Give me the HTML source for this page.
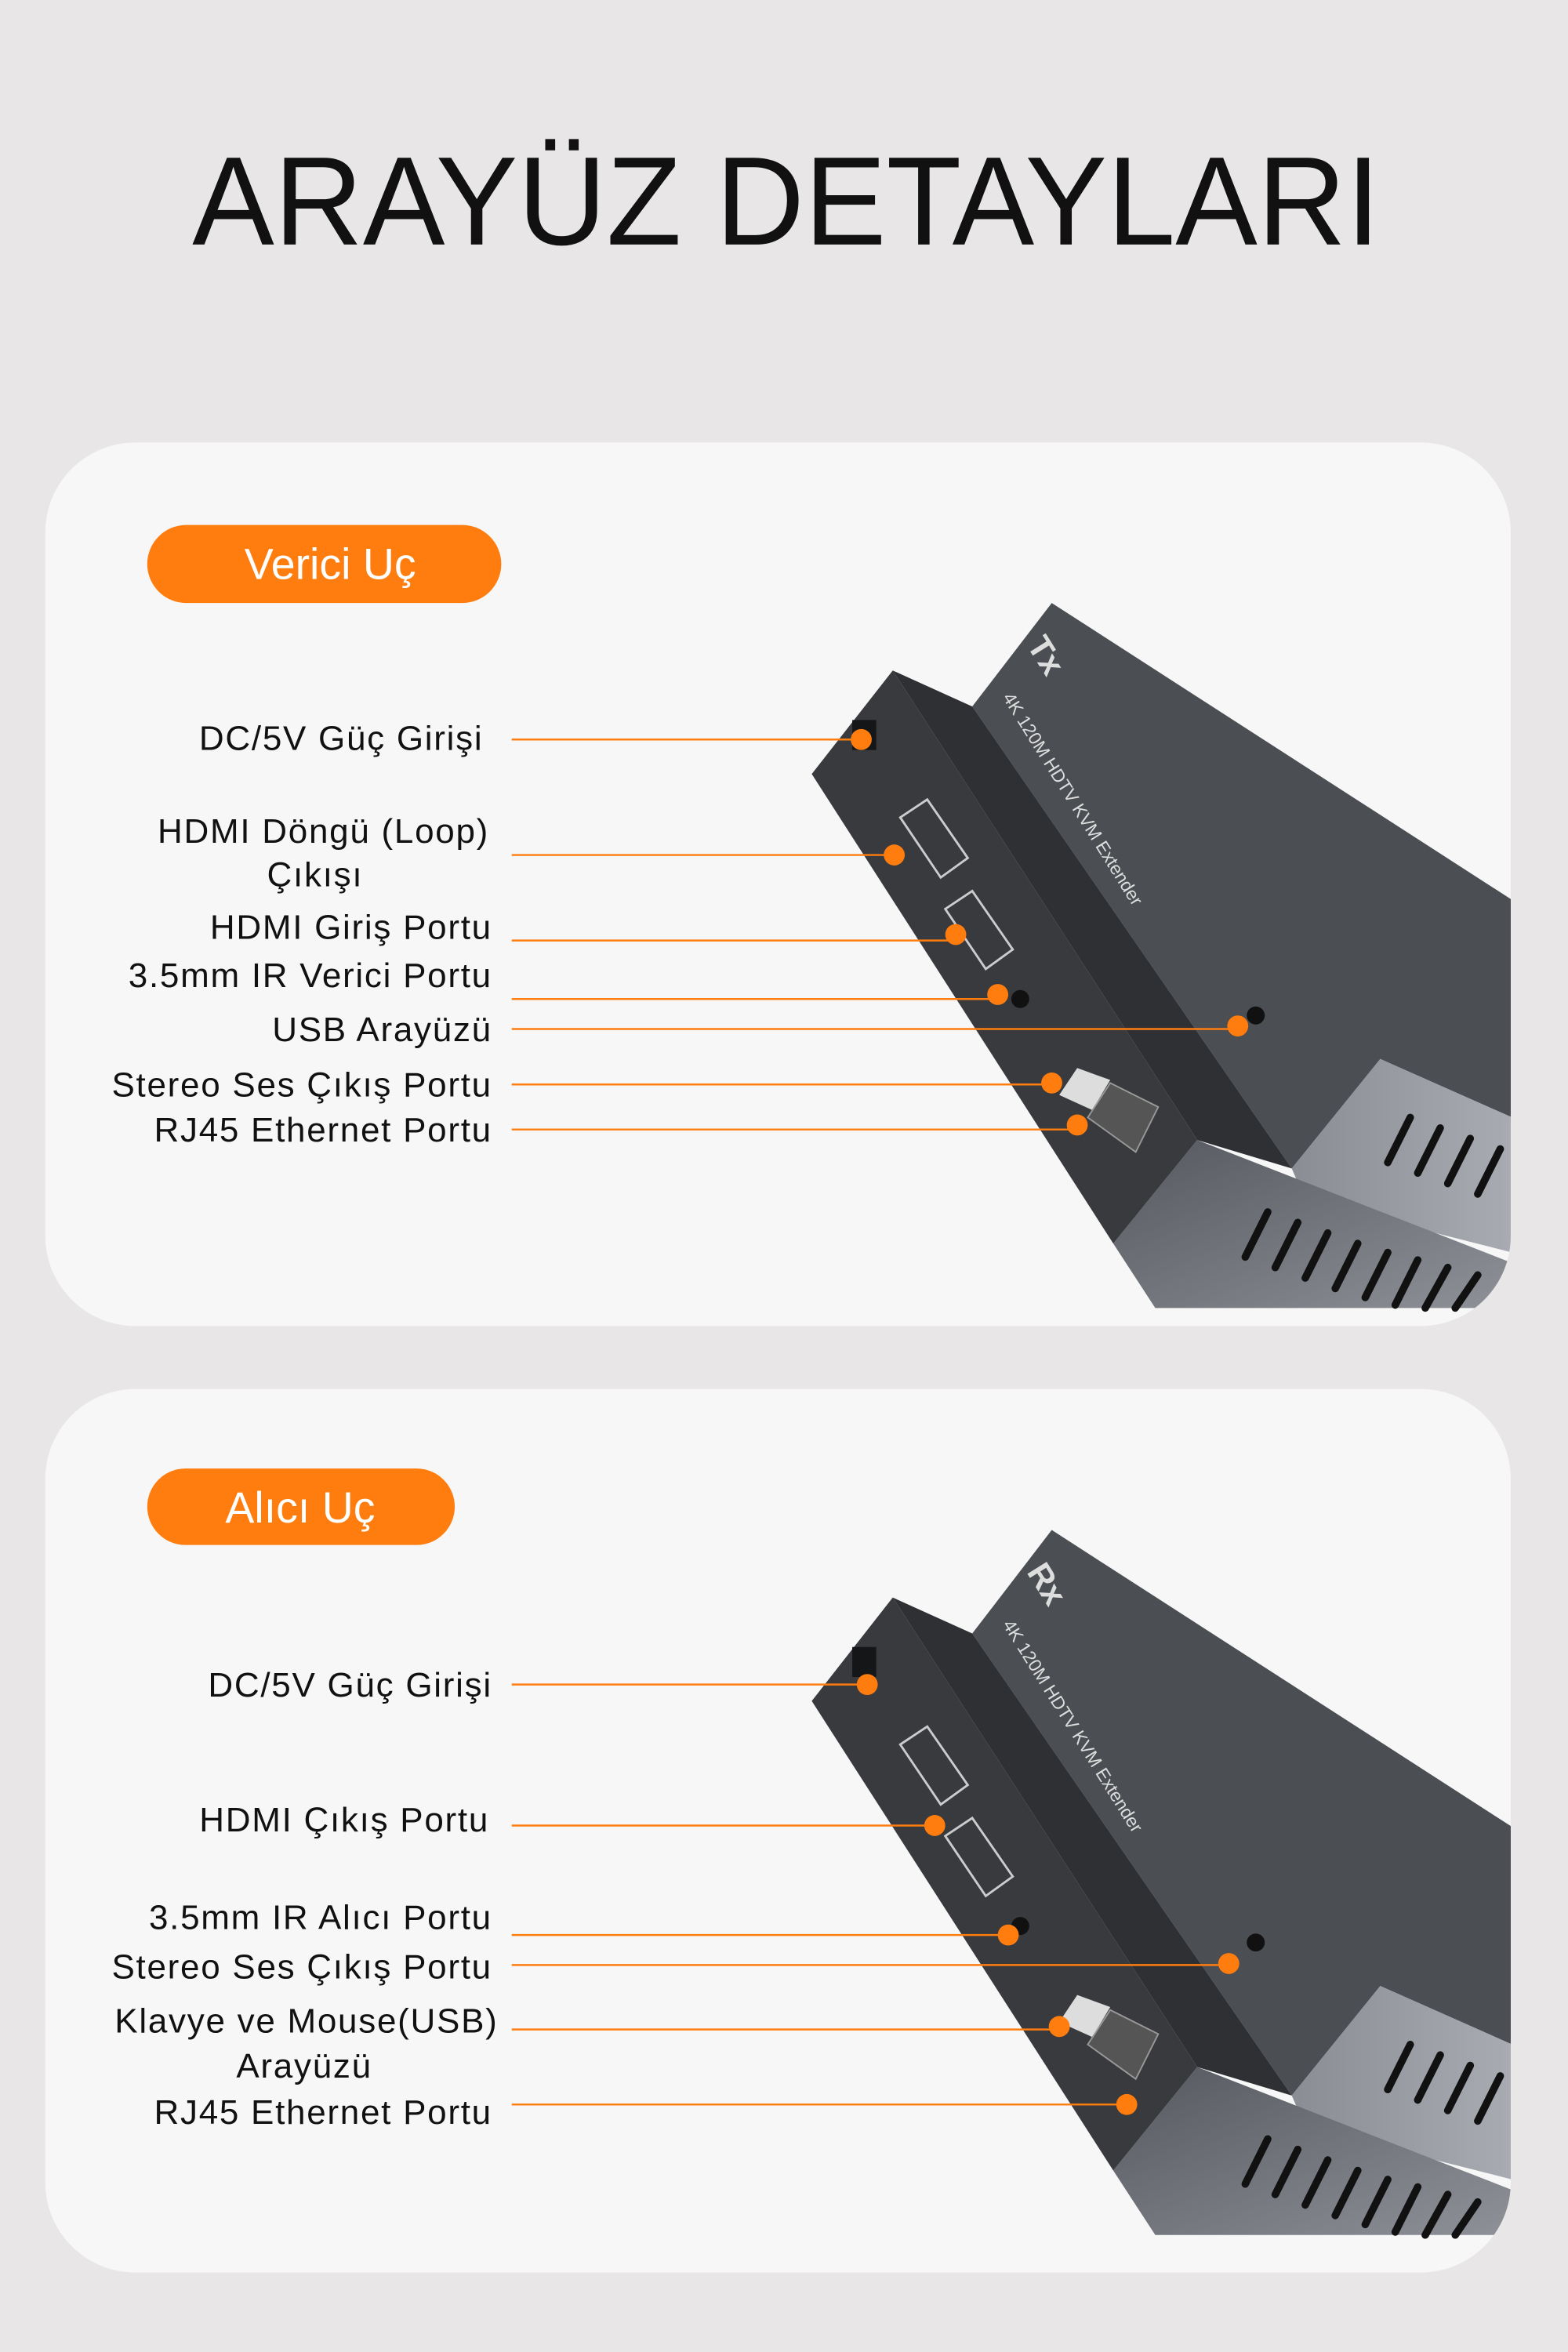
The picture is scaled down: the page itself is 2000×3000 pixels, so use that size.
<!DOCTYPE html>
<html><head><meta charset="utf-8"><style>
html,body{margin:0;padding:0;background:#e8e6e6;}
svg{display:block}
text{font-family:"Liberation Sans","DejaVu Sans",sans-serif;}
</style></head><body>
<svg width="2000" height="3000" viewBox="0 0 1045 1568" xmlns="http://www.w3.org/2000/svg">
<defs>
<clipPath id="c1"><rect x="30" y="295" width="977" height="589" rx="60"/></clipPath>
<clipPath id="c2"><rect x="30" y="926" width="977" height="589" rx="60"/></clipPath>
<linearGradient id="side" x1="0" y1="0" x2="1" y2="1"><stop offset="0" stop-color="#55585e"/><stop offset="1" stop-color="#8e9298"/></linearGradient>
<linearGradient id="side2" x1="0" y1="0" x2="1" y2="0"><stop offset="0" stop-color="#8a8e94"/><stop offset="1" stop-color="#a8acb2"/></linearGradient>
<g id="dev">
<polygon points="648,471 701,402 1008,600 1008,745 920,706 861,779" fill="#4b4e53"/>
<polygon points="861,779 920,706 1008,745 1008,835 870,800" fill="url(#side2)"/>
<polygon points="742,829 798,760 1008,842 1008,872 770,872" fill="url(#side)"/>
<polygon points="541,516 595,447 798,760 742,829" fill="#383a3e"/>
<polygon points="595,447 648,471 861,779 798,760" fill="#2e3034"/>
<g stroke="#111" stroke-width="5" stroke-linecap="round">
<line x1="830" y1="838" x2="845" y2="808"/><line x1="850" y1="845" x2="865" y2="815"/><line x1="870" y1="852" x2="885" y2="822"/><line x1="890" y1="859" x2="905" y2="829"/><line x1="910" y1="865" x2="925" y2="835"/><line x1="930" y1="870" x2="945" y2="840"/><line x1="950" y1="872" x2="965" y2="845"/><line x1="970" y1="872" x2="985" y2="850"/>
<line x1="925" y1="775" x2="940" y2="745"/><line x1="945" y1="782" x2="960" y2="752"/><line x1="965" y1="789" x2="980" y2="759"/><line x1="985" y1="796" x2="1000" y2="766"/>
</g>
<rect x="568" y="480" width="16" height="20" fill="#151618"/>
<polygon points="600,545 618,533 645,572 627,585" fill="none" stroke="#ccc" stroke-width="1.5"/>
<polygon points="630,606 648,594 675,633 657,646" fill="none" stroke="#ccc" stroke-width="1.5"/>
<circle cx="680" cy="666" r="6" fill="#111"/><circle cx="837" cy="677" r="6" fill="#111"/>
<polygon points="706,730 718,712 740,720 728,740" fill="#ddd"/>
<polygon points="725,745 740,722 772,738 757,768" fill="#555" stroke="#999"/>
<text x="0" y="0" transform="translate(668,465) rotate(58)" font-size="12" fill="#ddd">4K 120M HDTV KVM Extender</text>
</g>
</defs>
<text x="524" y="163" text-anchor="middle" font-size="84" fill="#111" textLength="792" lengthAdjust="spacingAndGlyphs">ARAYÜZ DETAYLARI</text>

<rect x="30" y="295" width="977" height="589" rx="60" fill="#f7f7f7"/>
<rect x="30" y="926" width="977" height="589" rx="60" fill="#f7f7f7"/>
<g clip-path="url(#c1)"><use href="#dev"/>
<text transform="translate(684,430) rotate(58)" font-size="22" fill="#ddd" font-weight="bold">Tx</text></g>
<g clip-path="url(#c2)"><use href="#dev" transform="translate(0,618)"/>
<text transform="translate(684,1048) rotate(58)" font-size="22" fill="#ddd" font-weight="bold">Rx</text></g>

<rect x="98" y="350" width="236" height="52" rx="26" fill="#ff7d0f"/>
<text x="220" y="386" text-anchor="middle" font-size="29" fill="#fff">Verici Uç</text>
<rect x="98" y="979" width="205" height="51" rx="25.5" fill="#ff7d0f"/>
<text x="200" y="1015" text-anchor="middle" font-size="29" fill="#fff">Alıcı Uç</text>

<g font-size="23" fill="#111" text-anchor="end" letter-spacing="0.9">
<text x="322" y="500">DC/5V Güç Girişi</text>
<text x="326" y="562">HDMI Döngü (Loop)</text>
<text x="242" y="591">Çıkışı</text>
<text x="328" y="626">HDMI Giriş Portu</text>
<text x="328" y="658">3.5mm IR Verici Portu</text>
<text x="328" y="694">USB Arayüzü</text>
<text x="328" y="731">Stereo Ses Çıkış Portu</text>
<text x="328" y="761">RJ45 Ethernet Portu</text>
<text x="328" y="1131">DC/5V Güç Girişi</text>
<text x="326" y="1221">HDMI Çıkış Portu</text>
<text x="328" y="1286">3.5mm IR Alıcı Portu</text>
<text x="328" y="1319">Stereo Ses Çıkış Portu</text>
<text x="332" y="1355">Klavye ve Mouse(USB)</text>
<text x="248" y="1385">Arayüzü</text>
<text x="328" y="1416">RJ45 Ethernet Portu</text>
</g>
<g stroke="#ff7d0f" stroke-width="1.3" fill="#ff7d0f">
<line x1="341" y1="493" x2="574" y2="493"/><circle cx="574" cy="493" r="7" stroke="none"/>
<line x1="341" y1="570" x2="596" y2="570"/><circle cx="596" cy="570" r="7" stroke="none"/>
<line x1="341" y1="627" x2="637" y2="627"/><circle cx="637" cy="623" r="7" stroke="none"/>
<line x1="341" y1="666" x2="665" y2="666"/><circle cx="665" cy="663" r="7" stroke="none"/>
<line x1="341" y1="686" x2="825" y2="686"/><circle cx="825" cy="684" r="7" stroke="none"/>
<line x1="341" y1="723" x2="701" y2="723"/><circle cx="701" cy="722" r="7" stroke="none"/>
<line x1="341" y1="753" x2="718" y2="753"/><circle cx="718" cy="750" r="7" stroke="none"/>
<line x1="341" y1="1123" x2="578" y2="1123"/><circle cx="578" cy="1123" r="7" stroke="none"/>
<line x1="341" y1="1217" x2="623" y2="1217"/><circle cx="623" cy="1217" r="7" stroke="none"/>
<line x1="341" y1="1290" x2="672" y2="1290"/><circle cx="672" cy="1290" r="7" stroke="none"/>
<line x1="341" y1="1310" x2="819" y2="1310"/><circle cx="819" cy="1309" r="7" stroke="none"/>
<line x1="341" y1="1353" x2="706" y2="1353"/><circle cx="706" cy="1351" r="7" stroke="none"/>
<line x1="341" y1="1403" x2="751" y2="1403"/><circle cx="751" cy="1403" r="7" stroke="none"/>
</g>
</svg>
</body></html>
